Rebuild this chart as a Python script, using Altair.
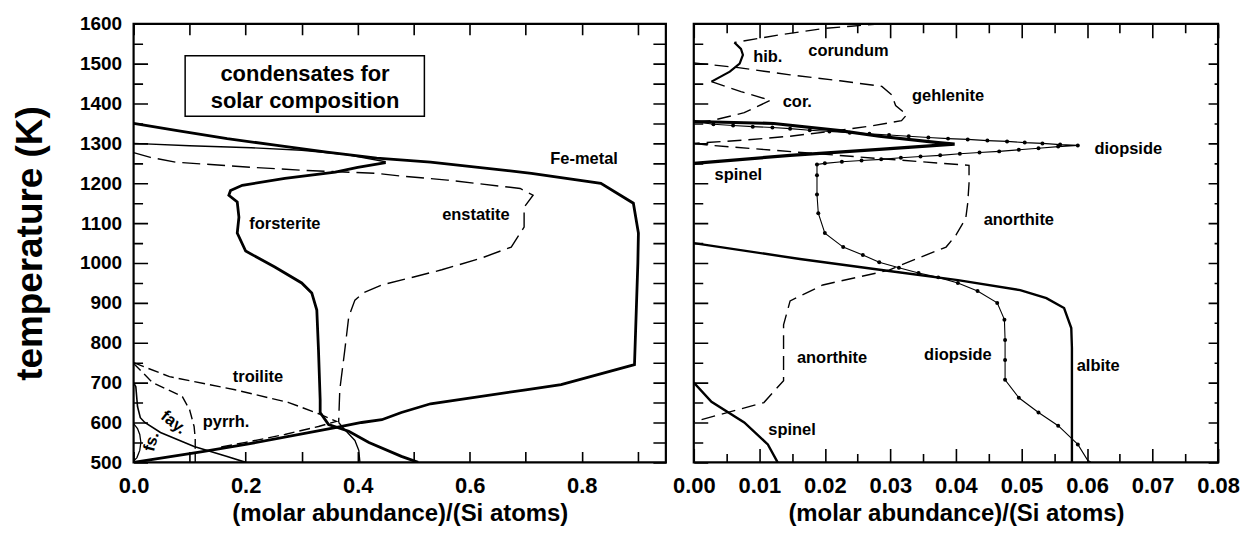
import altair as alt
import pandas as pd

FONT = "Liberation Sans"

# ================= LEFT PANEL DATA (x = molar abundance / Si, T = K) =================
FE_X = [0.0, 0.078, 0.167, 0.256, 0.345, 0.434, 0.53, 0.71, 0.834, 0.892, 0.901, 0.900, 0.894,
        0.763, 0.70, 0.53, 0.478, 0.443, 0.407, 0.36, 0.2, 0.123, 0.0]
FE_T = [1350, 1332, 1312, 1295, 1278, 1263, 1253, 1225, 1200, 1150, 1075, 1000, 745,
        695, 682, 647, 625, 607, 600, 587, 545, 527, 500]

FOA_X = [0.0, 0.1, 0.21, 0.3, 0.38, 0.45]
FOA_T = [1300, 1294, 1289, 1283, 1272, 1254]

FOB_X = [0.45, 0.40, 0.36, 0.27, 0.194, 0.173, 0.17, 0.185, 0.188, 0.185, 0.2, 0.252, 0.3,
         0.318, 0.327, 0.33, 0.333, 0.333, 0.348, 0.384, 0.42, 0.478, 0.508]
FOB_T = [1252, 1240, 1228, 1212, 1195, 1182, 1170, 1153, 1115, 1075, 1030, 990, 950,
         925, 882, 782, 657, 625, 595, 578, 550, 515, 500]

EN_X = [0.0, 0.03, 0.075, 0.21, 0.31, 0.434, 0.478, 0.56, 0.69, 0.713, 0.697, 0.697, 0.674,
        0.62, 0.55, 0.50, 0.443, 0.41, 0.395, 0.384, 0.377, 0.368, 0.366]
EN_T = [1277, 1265, 1253, 1240, 1232, 1225, 1218, 1208, 1187, 1170, 1140, 1090, 1040,
        1012, 983, 965, 945, 925, 907, 865, 782, 682, 600]

ENL_X = [0.366, 0.375, 0.395, 0.402, 0.404]
ENL_T = [600, 585, 555, 530, 500]

TR_X = [0.0, 0.064, 0.181, 0.277, 0.33, 0.362, 0.33, 0.27, 0.2, 0.15]
TR_T = [750, 715, 682, 650, 622, 603, 590, 570, 550, 537]

PY_X = [0.0, 0.034, 0.087, 0.10, 0.108, 0.11, 0.11]
PY_T = [748, 700, 665, 632, 590, 560, 500]

FA_X = [0.0, 0.004, 0.007, 0.012, 0.02, 0.048, 0.108, 0.167, 0.2]
FA_T = [700, 690, 640, 612, 600, 575, 540, 515, 500]

FS_X = [0.0, 0.007, 0.011, 0.013, 0.011, 0.006, 0.0]
FS_T = [597, 585, 570, 550, 530, 512, 503]

LEFT_LABELS = ["Fe-metal", "forsterite", "enstatite", "troilite", "pyrrh.", "fay.", "fs."]
LEFT_LAB_X = [0.804, 0.27, 0.611, 0.222, 0.165, 0.071, 0.032]
LEFT_LAB_T = [1260, 1097, 1120, 715, 600, 600, 552]
LEFT_LAB_ANG = [0, 0, 0, 0, 0, 38, 285]

BOX_TEXT = ["condensates for", "solar composition"]
BOX_TEXT_X = [0.306, 0.306]
BOX_TEXT_T = [1475, 1407]
BOX_X = [0.092]
BOX_X2 = [0.519]
BOX_T = [1368]
BOX_T2 = [1520]

# ================= RIGHT PANEL DATA =================
COT_X = [0.0287, 0.024, 0.0197, 0.013, 0.0062]
COT_T = [1600, 1594, 1588, 1572, 1553]

HIB_X = [0.0062, 0.0072, 0.0075, 0.0070, 0.0055, 0.0027]
HIB_T = [1553, 1537, 1522, 1500, 1480, 1455]

COR_X = [0.0027, 0.0072, 0.0117, 0.0077, 0.0027, 0.0]
COR_T = [1455, 1430, 1408, 1377, 1357, 1353]

GE_X = [0.0, 0.0068, 0.0147, 0.0223, 0.0287, 0.0302, 0.0308, 0.0325, 0.0317, 0.0272,
        0.0223, 0.0147, 0.0075, 0.0]
GE_T = [1502, 1490, 1472, 1457, 1443, 1422, 1395, 1372, 1357, 1344, 1333, 1318, 1308, 1300]

SPH_X = [0.0, 0.0122, 0.0223, 0.0283, 0.0373, 0.0398, 0.0283, 0.0147, 0.0]
SPH_T = [1355, 1350, 1332, 1318, 1302, 1298, 1285, 1270, 1250]

DI_X = [0.0, 0.003, 0.006, 0.009, 0.012, 0.0147, 0.0177, 0.0207, 0.0238, 0.0268, 0.0298,
        0.0328, 0.0358, 0.0388, 0.0418, 0.0448, 0.0478, 0.0505, 0.0532, 0.0559, 0.0586,
        0.0556, 0.0526, 0.0496, 0.0466, 0.0436, 0.0406, 0.0376, 0.0346, 0.0316, 0.0286,
        0.0256, 0.0226, 0.0200, 0.0188,
        0.0188, 0.0188, 0.0190, 0.0200, 0.0228, 0.0258, 0.0283, 0.0313, 0.0343, 0.0373,
        0.0403, 0.0433, 0.0463, 0.0474, 0.0475, 0.0475, 0.0475, 0.0496, 0.0526, 0.0556,
        0.0586, 0.0603]
DI_T = [1355, 1348, 1345, 1342, 1340, 1337, 1333, 1330, 1327, 1324, 1321,
        1318, 1315, 1312, 1310, 1307, 1305, 1302, 1300, 1297, 1295,
        1292, 1288, 1284, 1280, 1277, 1274, 1270, 1267, 1264, 1260,
        1257, 1254, 1250, 1247,
        1220, 1172, 1125, 1075, 1040, 1020, 1002, 988, 975, 964,
        950, 930, 900, 858, 807, 757, 707, 662, 625, 592,
        545, 500]

AN_X = [0.0, 0.0027, 0.0283, 0.042, 0.042, 0.0418, 0.0415, 0.040, 0.0385, 0.0313, 0.0298,
        0.0197, 0.0147, 0.0137, 0.0137, 0.0107, 0.0]
AN_T = [1300, 1295, 1262, 1245, 1200, 1150, 1112, 1070, 1040, 993, 982,
        945, 905, 845, 705, 650, 602]

AB_X = [0.0, 0.0162, 0.0298, 0.0403, 0.0498, 0.0538, 0.0565, 0.0576, 0.0577, 0.0577]
AB_T = [1050, 1010, 980, 957, 932, 912, 887, 837, 787, 500]

SPL_X = [0.0, 0.0027, 0.0077, 0.0113, 0.0128]
SPL_T = [700, 652, 600, 545, 500]

RIGHT_LABELS = ["corundum", "hib.", "cor.", "gehlenite", "diopside", "spinel", "anorthite",
                "anorthite", "diopside", "albite", "spinel"]
RIGHT_LAB_X = [0.0236, 0.0113, 0.0158, 0.0388, 0.0663, 0.0068, 0.0496,
               0.0211, 0.0403, 0.0617, 0.015]
RIGHT_LAB_T = [1532, 1517, 1405, 1420, 1287, 1220, 1107, 762, 770, 742, 580]
RIGHT_LAB_ANG = [0] * 11

# ================= axis tick values =================
LEFT_X_TICKS = [0.0, 0.1, 0.2, 0.3, 0.4, 0.5, 0.6, 0.7, 0.8, 0.9]
RIGHT_X_TICKS = [0.0, 0.005, 0.01, 0.015, 0.02, 0.025, 0.03, 0.035, 0.04, 0.045, 0.05,
                 0.055, 0.06, 0.065, 0.07, 0.075, 0.08]
Y_TICKS = [500, 550, 600, 650, 700, 750, 800, 850, 900, 950, 1000, 1050, 1100, 1150,
           1200, 1250, 1300, 1350, 1400, 1450, 1500, 1550, 1600]

H = 440
WL = 534
WR = 526


def frame(series):
    rows = []
    for name, (xs, ts) in series.items():
        for i, (x, t) in enumerate(zip(xs, ts)):
            rows.append({"series": name, "x": x, "T": t, "i": i})
    return pd.DataFrame(rows)


def x_axis(values, fmt, label_expr, grid_dash):
    return alt.Axis(values=values, format=fmt, labelExpr=label_expr, ticks=False, domain=False,
                    grid=True, gridColor="black", gridWidth=1.6, gridOpacity=1, gridDash=grid_dash,
                    labelFont=FONT, labelFontSize=22, labelFontWeight="bold", labelColor="black",
                    labelPadding=13, labelFlush=False, labelOverlap=False,
                    title="(molar abundance)/(Si atoms)", titleFont=FONT, titleFontSize=24,
                    titleFontWeight="bold", titleColor="black", titlePadding=5)


def y_axis(show_labels, grid_dash):
    kw = dict(values=Y_TICKS, format="d", ticks=False, domain=False, grid=True,
              gridColor="black", gridWidth=1.6, gridOpacity=1, gridDash=grid_dash,
              labelOverlap=False)
    if show_labels:
        kw.update(labelExpr="datum.value % 100 == 0 ? datum.label : ''", labelFont=FONT,
                  labelFontSize=19, labelFontWeight="bold", labelColor="black", labelPadding=12,
                  title="temperature (K)", titleFont=FONT, titleFontSize=37,
                  titleFontWeight="bold", titleColor="black", titlePadding=30)
    else:
        kw.update(labels=False, title=None, minExtent=0, maxExtent=0)
    return alt.Axis(**kw)


def panel(df, styles, xdom, xaxis, yaxis, lab_df, width, extra=None):
    xenc = alt.X("x:Q", scale=alt.Scale(domain=xdom, nice=False, zero=False), axis=xaxis)
    yenc = alt.Y("T:Q", scale=alt.Scale(domain=[500, 1600], nice=False, zero=False), axis=yaxis)
    layers = []
    for name, (w, dash, pts) in styles.items():
        kw = dict(color="black", strokeWidth=w, clip=True)
        if dash:
            kw["strokeDash"] = dash
        if pts:
            kw["point"] = alt.OverlayMarkDef(filled=True, size=16, color="black")
        layers.append(
            alt.Chart(df).transform_filter(alt.datum.series == name)
            .mark_line(**kw).encode(x=xenc, y=yenc, order="i:Q")
        )
    layers.append(
        alt.Chart(lab_df).mark_text(font=FONT, fontWeight="bold", fontSize=16.5, color="black")
        .encode(x=xenc, y=yenc, text="label:N", angle=alt.Angle("angle:Q", scale=None))
    )
    if extra:
        layers.extend(extra(xenc, yenc))
    return alt.layer(*layers).properties(width=width, height=H)


left_df = frame({
    "fe": (FE_X, FE_T), "foa": (FOA_X, FOA_T), "fob": (FOB_X, FOB_T), "en": (EN_X, EN_T),
    "enl": (ENL_X, ENL_T), "tr": (TR_X, TR_T), "py": (PY_X, PY_T), "fa": (FA_X, FA_T),
    "fs": (FS_X, FS_T),
})
left_styles = {
    "fe": (2.8, None, False), "foa": (1.4, None, False), "fob": (2.8, None, False),
    "en": (1.4, [18, 7], False), "enl": (1.3, None, False), "tr": (1.4, [11, 5], False),
    "py": (1.4, [10, 5], False), "fa": (1.6, None, False), "fs": (1.3, None, False),
}
left_lab = pd.DataFrame({"label": LEFT_LABELS, "x": LEFT_LAB_X, "T": LEFT_LAB_T,
                         "angle": LEFT_LAB_ANG})
box_df = pd.DataFrame({"x": BOX_X, "x2": BOX_X2, "T": BOX_T, "T2": BOX_T2})
box_txt = pd.DataFrame({"label": BOX_TEXT, "x": BOX_TEXT_X, "T": BOX_TEXT_T})


def left_extra(xenc, yenc):
    rect = alt.Chart(box_df).mark_rect(fill="white", stroke="black", strokeWidth=1.5).encode(
        x=xenc, x2="x2:Q", y=yenc, y2="T2:Q")
    txt = alt.Chart(box_txt).mark_text(font=FONT, fontWeight="bold", fontSize=22,
                                       color="black").encode(x=xenc, y=yenc, text="label:N")
    return [rect, txt]


left = panel(
    left_df, left_styles, [0, 0.95],
    x_axis(LEFT_X_TICKS, ".1f", "round(datum.value*10) % 2 == 0 ? datum.label : ''",
           [11, H - 22, 11, 3000]),
    y_axis(True, {"condition": {"test": "datum.value % 100 == 0",
                                "value": [14, WL - 27, 13, 3000]},
                  "value": [9, WL - 22, 13, 3000]}),
    left_lab, WL, extra=left_extra,
)

right_df = frame({
    "cot": (COT_X, COT_T), "hib": (HIB_X, HIB_T), "cor": (COR_X, COR_T), "ge": (GE_X, GE_T),
    "sph": (SPH_X, SPH_T), "di": (DI_X, DI_T), "an": (AN_X, AN_T), "ab": (AB_X, AB_T),
    "spl": (SPL_X, SPL_T),
})
right_styles = {
    "cot": (1.4, [14, 7], False), "hib": (2.2, None, False), "cor": (1.4, [14, 7], False),
    "ge": (1.4, [14, 7], False), "an": (1.4, [14, 7], False), "di": (1.1, None, True),
    "sph": (3.2, None, False), "ab": (2.4, None, False), "spl": (2.4, None, False),
}
right_lab = pd.DataFrame({"label": RIGHT_LABELS, "x": RIGHT_LAB_X, "T": RIGHT_LAB_T,
                          "angle": RIGHT_LAB_ANG})

right = panel(
    right_df, right_styles, [0, 0.08],
    x_axis(RIGHT_X_TICKS, ".2f", "round(datum.value*1000) % 10 == 0 ? datum.label : ''",
           {"condition": {"test": "round(datum.value*1000) % 10 == 0",
                          "value": [14, H - 28, 14, 3000]},
            "value": [9, H - 18, 9, 3000]}),
    y_axis(False, {"condition": {"test": "datum.value % 100 == 0",
                                 "value": [14, WR - 24, 10, 3000]},
                   "value": [9, WR - 13, 4, 3000]}),
    right_lab, WR,
)

chart = alt.hconcat(left, right, spacing=3).configure_view(
    stroke="black", strokeWidth=2.2
).properties(padding={"left": 2, "top": 4, "right": 0, "bottom": 0}, background="white")

chart.save("out.html", embed_options={"renderer": "svg", "actions": False})
